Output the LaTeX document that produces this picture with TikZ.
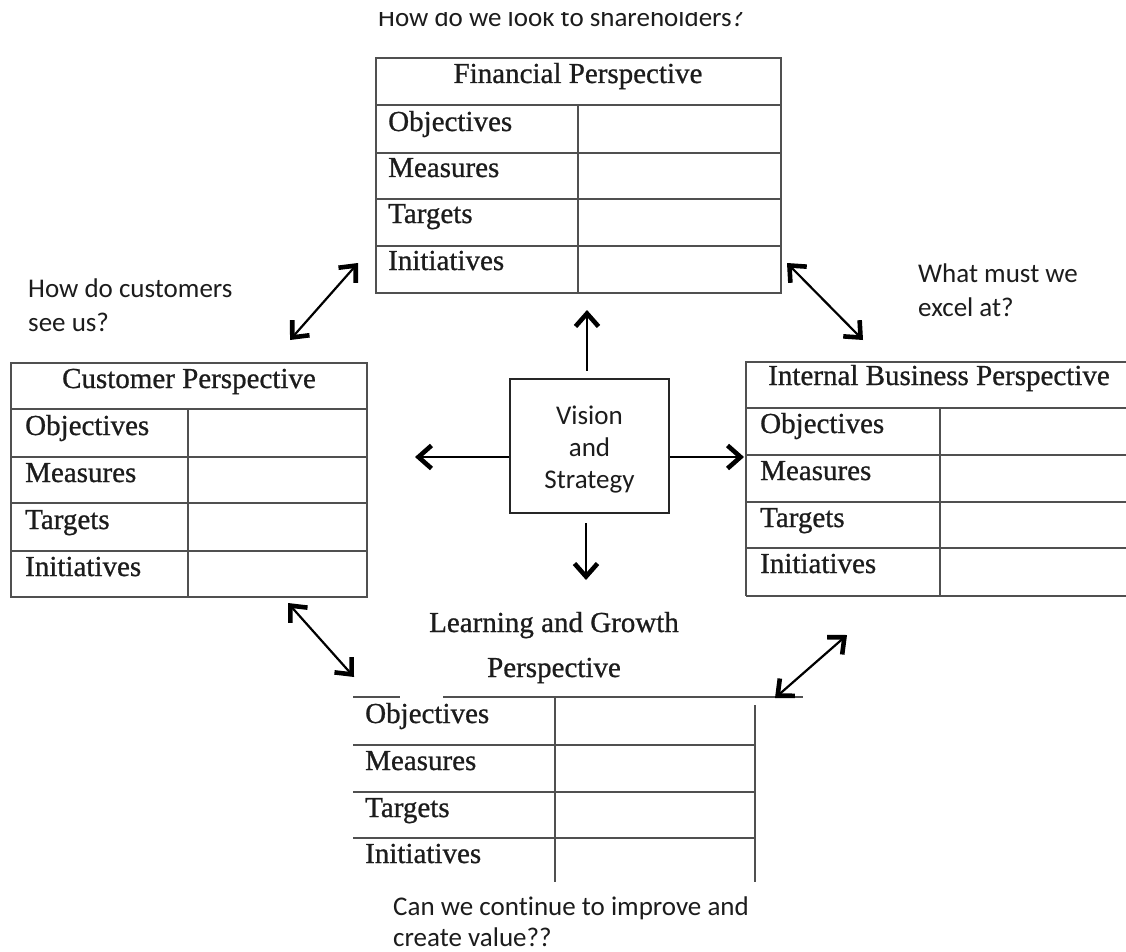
\documentclass[tikz,border=0pt]{standalone}
\usepackage{fontspec}
\setmainfont{Liberation Serif}[FakeBold=0.8]
\newfontfamily\sansf{Carlito}[Ligatures={NoCommon}]
\usetikzlibrary{arrows.meta}
\definecolor{gridc}{HTML}{505050}
\definecolor{txt}{HTML}{1c1c1c}
\begin{document}
\begin{tikzpicture}[x=1pt,y=-1pt,
  grid/.style={draw=gridc, line width=1.7pt},
  lbl/.style={font=\fontsize{29}{33}\selectfont, text=txt, anchor=base west, inner sep=0pt},
  hdr/.style={font=\fontsize{29}{33}\selectfont, text=txt, anchor=base, inner sep=0pt},
  qtext/.style={font=\sansf\fontsize{27}{34}\selectfont, text=txt, anchor=base west, inner sep=0pt},
  tipb/.tip={Straight Barb[length=13pt,width=23pt,line width=4.6pt]},
  arr/.style={line width=2.2pt, draw=black, -tipb},
  darr/.style={line width=2.2pt, draw=black, tipb-tipb}
]
\useasboundingbox[fill=white] (0,0) rectangle (1126,952);

% ---------- Financial ----------
\draw[grid] (376,58) rectangle (781,293);
\foreach \yy in {105,153,199,246} \draw[grid] (376,\yy) -- (781,\yy);
\draw[grid] (578,105) -- (578,293);
\node[hdr] (fh) at (578,83) {Financial Perspective};
\node[lbl] (fobj) at (388,131) {Objectives};
\node[lbl] (fmea) at (388,177) {Measures};
\node[lbl] (ftar) at (388,223) {Targets};
\node[lbl] (fini) at (388,270) {Initiatives};
\begin{scope}
  \clip (0,13) rectangle (1126,60);
  \node[qtext] (qf) at (378,27) {How do we look to shareholders?};
\end{scope}

% ---------- Customer ----------
\draw[grid] (11,363) rectangle (367,597);
\foreach \yy in {409,457,503,551} \draw[grid] (11,\yy) -- (367,\yy);
\draw[grid] (188,409) -- (188,597);
\node[hdr] (ch) at (189,388) {Customer Perspective};
\node[lbl] (cobj) at (25,435) {Objectives};
\node[lbl] (cmea) at (25,482) {Measures};
\node[lbl] (ctar) at (25,529) {Targets};
\node[lbl] (cini) at (25,576) {Initiatives};
\node[qtext] (qc1) at (28,297) {How do customers};
\node[qtext] (qc2) at (28,331) {see us?};

% ---------- Internal Business ----------
\draw[grid] (1126,362) -- (746,362) -- (746,596);
\foreach \yy in {408,455,502,548} \draw[grid] (746,\yy) -- (1126,\yy);
\draw[draw=gridc, line width=2.8pt] (746,596) -- (1126,596);
\draw[grid] (940,408) -- (940,596);
\node[hdr] (ih) at (939,385) {Internal Business Perspective};
\node[lbl] (iobj) at (760,433) {Objectives};
\node[lbl] (imea) at (760,480) {Measures};
\node[lbl] (itar) at (760,527) {Targets};
\node[lbl] (iini) at (760,573) {Initiatives};
\node[qtext] (qi1) at (918,282) {What must we};
\node[qtext] (qi2) at (918,316) {excel at?};

% ---------- Learning and Growth ----------
\draw[grid] (353,697) -- (400,697);
\draw[grid] (443,697) -- (803,697);
\foreach \yy in {745,792,838} \draw[grid] (353,\yy) -- (755,\yy);
\draw[grid] (555,697) -- (555,882);
\draw[grid] (755,705) -- (755,882);
\node[hdr] (lh1) at (554,632) {Learning and Growth};
\node[hdr] (lh2) at (554,677) {Perspective};
\node[lbl] (lobj) at (365,723) {Objectives};
\node[lbl] (lmea) at (365,770) {Measures};
\node[lbl] (ltar) at (365,817) {Targets};
\node[lbl] (lini) at (365,863) {Initiatives};
\node[qtext] (ql1) at (393,915) {Can we continue to improve and};
\node[qtext] (ql2) at (393,946) {create value??};

% ---------- Vision and Strategy ----------
\node[draw=black!85, line width=2.8pt, minimum width=159pt, minimum height=134pt, inner sep=0pt]
      (vs) at (589.5,446) {};
\node[align=center, font=\sansf\fontsize{27}{32}\selectfont, text=txt, inner sep=0pt]
      (vst) at (589.5,450) {Vision\\and\\Strategy};

\coordinate (upT) at (587,310);
\coordinate (dnT) at (586,580);
\coordinate (lfT) at (415,457);
\coordinate (rtT) at (744,457);
\draw[arr, shorten <=7pt] (vs.north -| upT) -- (upT);
\draw[arr, shorten <=9pt] (vs.south -| dnT) -- (dnT);
\draw[arr] (vs.west |- lfT) -- (lfT);
\draw[arr] (vs.east |- rtT) -- (rtT);

% ---------- diagonal double arrows ----------
\coordinate (tla) at (290,340);
\coordinate (tlb) at (358,263);
\coordinate (tra) at (787,263);
\coordinate (trb) at (863,340);
\coordinate (bla) at (288,603);
\coordinate (blb) at (354,677);
\coordinate (bra) at (775,698);
\coordinate (brb) at (847,635);
\draw[darr] (tla) -- (tlb);
\draw[darr] (tra) -- (trb);
\draw[darr] (bla) -- (blb);
\draw[darr] (bra) -- (brb);
\end{tikzpicture}
\end{document}
